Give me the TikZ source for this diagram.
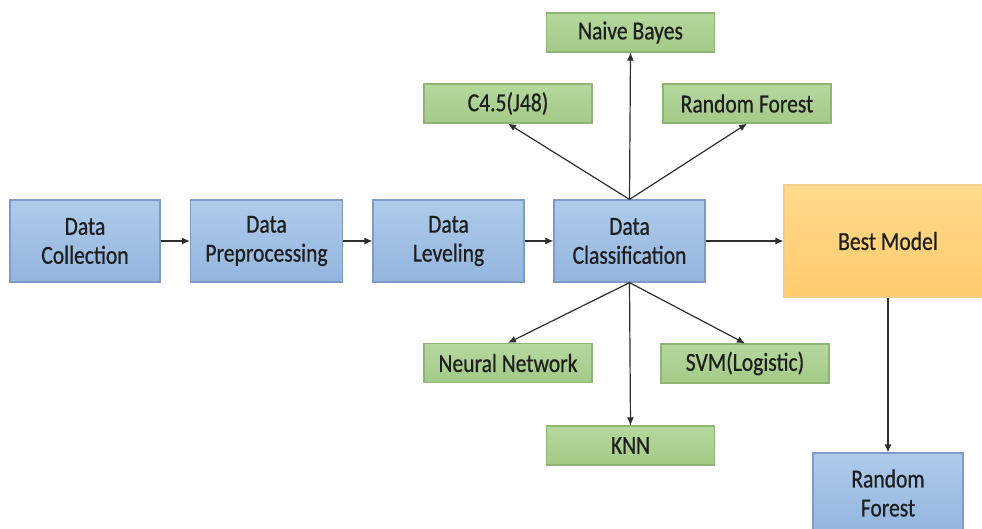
\documentclass[tikz,border=0pt]{standalone}
\usepackage{fontspec}
\setmainfont{Carlito}[FakeStretch=0.83,FakeBold=0.6]
\usetikzlibrary{arrows.meta,shadings}

\definecolor{bluetop}{HTML}{AECBEB}
\definecolor{bluebot}{HTML}{93B5DE}
\definecolor{blueedge}{HTML}{7C9DC7}
\definecolor{greentop}{HTML}{B6D89F}
\definecolor{greenbot}{HTML}{A2CA86}
\definecolor{greenedge}{HTML}{8EB574}
\definecolor{orangetop}{HTML}{FFD98C}
\definecolor{orangebot}{HTML}{FFCC6C}
\definecolor{orangeedge}{HTML}{F4CD86}
\definecolor{inkcol}{HTML}{1E1E1E}
\definecolor{arrowcol}{HTML}{2E2E2E}

\tikzset{
  boxbase/.style={rectangle, align=center, inner sep=0pt, text=inkcol,
    font=\fontsize{26}{29}\selectfont, line width=1.2pt},
  stage/.style={boxbase, top color=bluetop, bottom color=bluebot, draw=blueedge},
  algo/.style={boxbase, top color=greentop, bottom color=greenbot, draw=greenedge,
    minimum width=168pt, minimum height=39pt},
  result/.style={boxbase, top color=orangetop, bottom color=orangebot, draw=orangeedge},
  link/.style={draw=arrowcol, line width=1.2pt, -{Latex[length=8pt,width=7pt]}}
}

\begin{document}
\begin{tikzpicture}[x=1pt,y=-1pt]
  \clip (0,0) rectangle (982,528);
  \fill[white] (0,0) rectangle (982,528);

  % main pipeline
  \node[stage, minimum width=150pt, minimum height=82pt] (dc)  at (85,241)    {Data\\Collection};
  \node[stage, minimum width=152pt, minimum height=82pt] (dp)  at (266.5,241) {Data\\Preprocessing};
  \node[stage, minimum width=151pt, minimum height=82pt] (dl)  at (448.5,241) {Data\\Leveling};
  \node[stage, minimum width=151pt, minimum height=82pt] (dcl) at (629.5,241) {Data\\Classification};
  \node[result, minimum width=208pt, minimum height=112pt] (best) at (888,241) {Best Model};
  \node[stage, minimum width=150pt, minimum height=80pt] (rf) at (888,493) {Random\\Forest};

  % classifiers
  \node[algo] (nb)  at (630.5,32.5)  {Naive Bayes};
  \node[algo] (c45) at (508,103.5)   {C4.5(J48)};
  \node[algo] (rfg) at (747,103.5)   {Random Forest};
  \node[algo] (nn)  at (508,363)     {Neural Network};
  \node[algo] (svm) at (745,363.5)   {SVM(Logistic)};
  \node[algo] (knn) at (630.5,445.5) {KNN};

  % connectors
  \draw[link] (dc) -- (dp);
  \draw[link] (dp) -- (dl);
  \draw[link] (dl) -- (dcl);
  \draw[link] (dcl) -- (best);
  \draw[link] (best) -- (rf);
  \draw[link] (dcl.north) -- (nb.south);
  \draw[link] (dcl.north) -- (c45.south);
  \draw[link] (dcl.north) -- (rfg.south);
  \draw[link] (dcl.south) -- (nn.north);
  \draw[link] (dcl.south) -- (knn.north);
  \draw[link] (dcl.south) -- (svm.north);
\end{tikzpicture}
\end{document}
